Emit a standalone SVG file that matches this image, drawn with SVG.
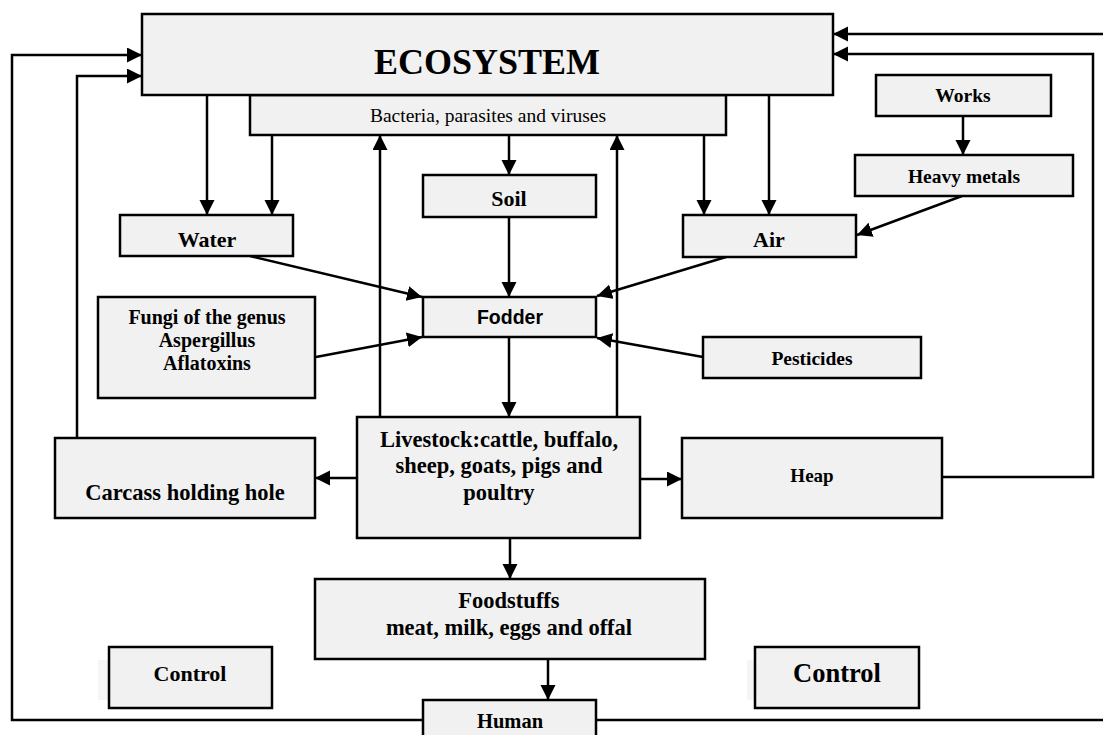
<svg xmlns="http://www.w3.org/2000/svg" width="1103" height="735" viewBox="0 0 1103 735">
<style>
.box{fill:#f1f1f1;stroke:#000;stroke-width:2.5}
.shadow{fill:#f5f5f5;stroke:none}
.t{font-family:"Liberation Serif","Times New Roman",serif;font-weight:bold;fill:#000;text-anchor:middle}
.r{font-family:"Liberation Serif","Times New Roman",serif;font-weight:normal;fill:#000;text-anchor:middle}
.s{font-family:"Liberation Sans",Arial,sans-serif;font-weight:bold;fill:#000;text-anchor:middle}
.ln{fill:none;stroke:#000;stroke-width:2.5}
.ar{fill:none;stroke:#000;stroke-width:2.5;marker-end:url(#ah)}
</style>
<defs>
<marker id="ah" markerUnits="userSpaceOnUse" markerWidth="16" markerHeight="16" refX="15" refY="7.5" orient="auto">
<path d="M0,0 L15,7.5 L0,15 z" fill="#000"/>
</marker>
</defs>
<rect width="1103" height="735" fill="#fff"/>

<g id="connectors">
<!-- ecosystem/bacteria to water -->
<path class="ar" d="M207,95 V215"/>
<path class="ar" d="M272,135 V215"/>
<!-- bacteria to soil -->
<path class="ar" d="M509,135 V175"/>
<!-- bacteria/ecosystem to air -->
<path class="ar" d="M704,135 V215"/>
<path class="ar" d="M769,95 V215"/>
<!-- works to heavy metals -->
<path class="ar" d="M963,116 V155"/>
<!-- heavy metals to air -->
<path class="ar" d="M962,196 L857,235"/>
<!-- soil to fodder -->
<path class="ar" d="M509,217 V297"/>
<!-- water to fodder -->
<path class="ar" d="M250,256 L422,297"/>
<!-- air to fodder -->
<path class="ar" d="M726,257 L597,296"/>
<!-- fungi to fodder -->
<path class="ar" d="M316,357 L422,337"/>
<!-- pesticides to fodder -->
<path class="ar" d="M703,357 L597,338"/>
<!-- fodder to livestock -->
<path class="ar" d="M509,337 V417"/>
<!-- livestock to bacteria -->
<path class="ar" d="M380,417 V135"/>
<path class="ar" d="M617,417 V135"/>
<!-- livestock to carcass / heap -->
<path class="ar" d="M357,478 H315"/>
<path class="ar" d="M640,479 H682"/>
<!-- livestock to foodstuffs -->
<path class="ar" d="M510,538 V579"/>
<!-- foodstuffs to human -->
<path class="ar" d="M548,659 V700"/>
<!-- carcass to ecosystem -->
<path class="ar" d="M77,438 V76 H142"/>
<!-- human to ecosystem (left loop) -->
<path class="ar" d="M423,720 H12 V55 H142"/>
<!-- heap to ecosystem -->
<path class="ar" d="M942,477 H1093 V54 H833"/>
<!-- human to ecosystem (right loop) -->
<path class="ln" d="M596,720 H1103"/>
<path class="ar" d="M1103,34 H833"/>
</g>

<g id="bacteria"><rect class="box" x="250" y="95" width="476" height="40"/><text class="r" x="488" y="122" font-size="19.5">Bacteria, parasites and viruses</text></g>
<g id="ecosystem"><rect class="box" x="142" y="14" width="691" height="81"/><text class="t" x="487" y="74" font-size="36">ECOSYSTEM</text></g>
<g id="works"><rect class="box" x="876" y="75" width="175" height="41"/><text class="t" x="963" y="102" font-size="19.5">Works</text></g>
<g id="heavy-metals"><rect class="box" x="855" y="155" width="218" height="41"/><text class="t" x="964" y="183" font-size="19.5">Heavy metals</text></g>
<g id="water"><rect class="box" x="120" y="215" width="173" height="41"/><text class="t" x="207" y="247" font-size="22">Water</text></g>
<g id="soil"><rect class="box" x="423" y="175" width="173" height="42"/><text class="t" x="509" y="206" font-size="22">Soil</text></g>
<g id="air"><rect class="box" x="683" y="215" width="173" height="42"/><text class="t" x="769" y="247" font-size="22">Air</text></g>
<g id="fodder"><rect class="box" x="423" y="297" width="173" height="40"/><text class="s" x="510" y="324" font-size="19.5">Fodder</text></g>
<g id="fungi"><rect class="box" x="98" y="297" width="217" height="101"/>
<text class="t" x="207" y="324" font-size="20">Fungi of the genus</text>
<text class="t" x="207" y="347" font-size="20">Aspergillus</text>
<text class="t" x="207" y="370" font-size="20">Aflatoxins</text></g>
<g id="pesticides"><rect class="box" x="703" y="337" width="218" height="41"/><text class="t" x="812" y="365" font-size="19.5">Pesticides</text></g>
<g id="carcass"><rect class="box" x="55" y="438" width="260" height="80"/><text class="t" x="185" y="500" font-size="22.5">Carcass holding hole</text></g>
<g id="livestock"><rect class="box" x="357" y="417" width="283" height="121"/>
<text class="t" x="499" y="447" font-size="22.5">Livestock:cattle, buffalo,</text>
<text class="t" x="499" y="473" font-size="22.5">sheep, goats, pigs and</text>
<text class="t" x="499" y="500" font-size="22.5">poultry</text></g>
<g id="heap"><rect class="box" x="682" y="438" width="260" height="80"/><text class="t" x="812" y="482" font-size="19">Heap</text></g>
<g id="foodstuffs"><rect class="box" x="315" y="579" width="390" height="80"/>
<text class="t" x="509" y="608" font-size="22.5">Foodstuffs</text>
<text class="t" x="509" y="635" font-size="22.5">meat, milk, eggs and offal</text></g>
<g id="control-left"><rect class="shadow" x="98" y="660" width="20" height="40"/><rect class="box" x="109" y="647" width="163" height="61"/><text class="t" x="190" y="681" font-size="22">Control</text></g>
<g id="control-right"><rect class="shadow" x="747" y="660" width="20" height="40"/><rect class="box" x="755" y="647" width="164" height="61"/><text class="t" x="837" y="682" font-size="26.5">Control</text></g>
<g id="human"><rect class="box" x="423" y="700" width="173" height="50"/><text class="t" x="510" y="728" font-size="20.5">Human</text></g>
</svg>
